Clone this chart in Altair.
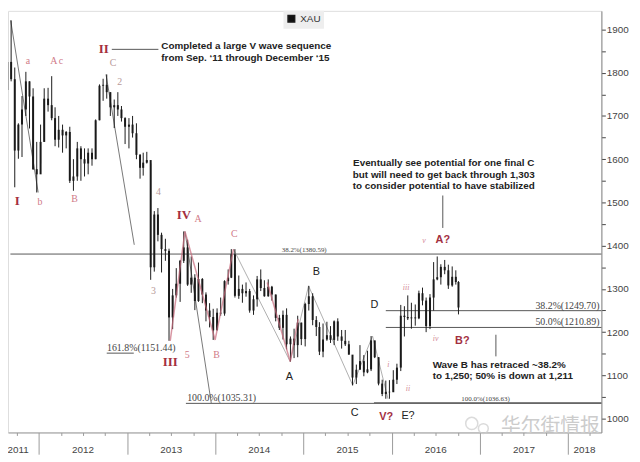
import altair as alt
import pandas as pd

# ---------------- price data (semi-monthly bars, XAU) ----------------
bar_dates = [
    "2011-08-08", "2011-08-23", "2011-09-08", "2011-09-23", "2011-10-08", "2011-10-23",
    "2011-11-08", "2011-11-23", "2011-12-08", "2011-12-23",
    "2012-01-08", "2012-01-23", "2012-02-08", "2012-02-23", "2012-03-08", "2012-03-23",
    "2012-04-08", "2012-04-23", "2012-05-08", "2012-05-23", "2012-06-08", "2012-06-23",
    "2012-07-08", "2012-07-23", "2012-08-08", "2012-08-23", "2012-09-08", "2012-09-23",
    "2012-10-08", "2012-10-23", "2012-11-08", "2012-11-23", "2012-12-08", "2012-12-23",
    "2013-01-08", "2013-01-23", "2013-02-08", "2013-02-23", "2013-03-08", "2013-03-23",
    "2013-04-08", "2013-04-23", "2013-05-08", "2013-05-23", "2013-06-08", "2013-06-23",
    "2013-07-08", "2013-07-23", "2013-08-08", "2013-08-23", "2013-09-08", "2013-09-23",
    "2013-10-08", "2013-10-23", "2013-11-08", "2013-11-23", "2013-12-08", "2013-12-23",
    "2014-01-08", "2014-01-23", "2014-02-08", "2014-02-23", "2014-03-08", "2014-03-23",
    "2014-04-08", "2014-04-23", "2014-05-08", "2014-05-23", "2014-06-08", "2014-06-23",
    "2014-07-08", "2014-07-23", "2014-08-08", "2014-08-23", "2014-09-08", "2014-09-23",
    "2014-10-08", "2014-10-23", "2014-11-08", "2014-11-23", "2014-12-08", "2014-12-23",
    "2015-01-08", "2015-01-23", "2015-02-08", "2015-02-23", "2015-03-08", "2015-03-23",
    "2015-04-08", "2015-04-23", "2015-05-08", "2015-05-23", "2015-06-08", "2015-06-23",
    "2015-07-08", "2015-07-23", "2015-08-08", "2015-08-23", "2015-09-08", "2015-09-23",
    "2015-10-08", "2015-10-23", "2015-11-08", "2015-11-23", "2015-12-08", "2015-12-23",
    "2016-01-08", "2016-01-23", "2016-02-08", "2016-02-23", "2016-03-08", "2016-03-23",
    "2016-04-08", "2016-04-23", "2016-05-08", "2016-05-23", "2016-06-08", "2016-06-23",
    "2016-07-08", "2016-07-23", "2016-08-08", "2016-08-23", "2016-09-08", "2016-09-23",
    "2016-10-04",
]
bar_high = [
    1815, 1913, 1921, 1812, 1683, 1746, 1802, 1780, 1764, 1640,
    1680, 1764, 1765, 1792, 1720, 1700, 1680, 1665, 1675, 1600, 1640, 1630,
    1625, 1625, 1625, 1692, 1773, 1786, 1796, 1755, 1738, 1755, 1723, 1697,
    1695, 1700, 1683, 1612, 1615, 1617, 1590, 1480, 1487, 1430, 1416, 1393,
    1300, 1348, 1367, 1433, 1414, 1375, 1334, 1361, 1325, 1292, 1267, 1254,
    1255, 1280, 1320, 1345, 1392, 1392, 1331, 1310, 1315, 1300, 1285, 1330,
    1345, 1320, 1322, 1307, 1287, 1240, 1250, 1255, 1190, 1208, 1238, 1222,
    1268, 1307, 1290, 1237, 1223, 1220, 1224, 1214, 1227, 1232, 1205, 1205,
    1180, 1146, 1125, 1170, 1147, 1157, 1191, 1180, 1142, 1090, 1088, 1089,
    1112, 1127, 1263, 1260, 1285, 1268, 1264, 1296, 1303, 1280, 1288, 1362,
    1375, 1357, 1367, 1356, 1352, 1343, 1318,
]
bar_low = [
    1610, 1705, 1780, 1535, 1601, 1605, 1700, 1671, 1575, 1523,
    1590, 1640, 1710, 1690, 1630, 1627, 1615, 1625, 1545, 1527, 1550, 1550,
    1560, 1565, 1585, 1600, 1690, 1735, 1740, 1700, 1672, 1700, 1687, 1635,
    1625, 1650, 1600, 1555, 1562, 1590, 1321, 1340, 1410, 1338, 1365, 1180,
    1207, 1280, 1270, 1360, 1307, 1291, 1251, 1270, 1267, 1225, 1211, 1182,
    1212, 1238, 1238, 1310, 1325, 1280, 1277, 1268, 1282, 1245, 1240, 1259,
    1295, 1282, 1282, 1273, 1225, 1205, 1183, 1160, 1132, 1140, 1142, 1170,
    1167, 1250, 1216, 1191, 1147, 1142, 1180, 1175, 1170, 1180, 1162, 1168,
    1148, 1077, 1080, 1115, 1098, 1105, 1110, 1140, 1077, 1052, 1046, 1046,
    1062, 1080, 1110, 1190, 1228, 1208, 1215, 1230, 1262, 1200, 1207, 1250,
    1320, 1310, 1334, 1300, 1305, 1310, 1241,
]
bar_close = [
    1760, 1825, 1785, 1620, 1680, 1715, 1780, 1745, 1577, 1565,
    1640, 1740, 1725, 1695, 1645, 1668, 1655, 1663, 1550, 1560, 1625, 1600,
    1590, 1615, 1600, 1690, 1770, 1772, 1755, 1720, 1725, 1715, 1695, 1675,
    1680, 1660, 1610, 1580, 1592, 1598, 1350, 1472, 1425, 1392, 1388, 1234,
    1285, 1312, 1365, 1396, 1310, 1326, 1272, 1323, 1287, 1250, 1235, 1204,
    1245, 1243, 1318, 1326, 1380, 1284, 1300, 1290, 1295, 1250, 1276, 1322,
    1302, 1283, 1305, 1287, 1233, 1210, 1240, 1172, 1185, 1170, 1222, 1184,
    1265, 1283, 1228, 1212, 1155, 1183, 1193, 1182, 1225, 1190, 1180, 1172,
    1148, 1095, 1113, 1133, 1107, 1114, 1181, 1142, 1081, 1057, 1062, 1061,
    1090, 1118, 1238, 1235, 1232, 1234, 1232, 1290, 1273, 1214, 1280, 1322,
    1327, 1351, 1343, 1308, 1328, 1316, 1257,
]
first_open = 1625

# ---------------- Fibonacci levels ----------------
fib_labels = ["38.2%(1380.59)", "161.8%(1151.44)", "100.0%(1035.31)",
              "100.0%(1036.63)", "38.2%(1249.70)", "50.0%(1210.89)"]
fib_values = [1380.59, 1151.44, 1035.31, 1036.63, 1249.70, 1210.89]
fib_start = ["2011-09-05", "2012-10-08", "2013-09-01", "2015-10-20", "2015-12-08", "2015-12-08"]
fib_end = ["2018-05-19", "2013-01-28", "2018-05-19", "2018-05-19", "2018-05-19", "2018-05-19"]
fib_label_dates = ["2014-10-03", "2012-10-09", "2013-09-06", "2016-10-16", "2018-05-11", "2018-05-11"]
fib_label_sizes = [7, 10, 10, 7, 10, 10]
fib_label_side = ["left", "left", "left", "left", "right", "right"]

# ---------------- wave drawing lines ----------------
wave_group = [1, 1, 2, 2, 3, 3]
wave_dates = ["2011-09-06", "2011-12-29", "2012-10-05", "2013-01-30", "2013-08-28", "2013-12-15"]
wave_values = [1921, 1523, 1796, 1402, 1433, 1036]

zig_dates = ["2014-03-17", "2014-11-07", "2015-01-22", "2015-07-24", "2015-10-14", "2015-12-17"]
zig_values = [1392, 1132, 1307, 1077, 1191, 1046]

sub_group = [1, 1, 1, 1, 2, 2, 2]
sub_dates = ["2013-06-28", "2013-08-28", "2013-12-31", "2014-03-17", "2014-08-04", "2014-11-07", "2014-12-10"]
sub_values = [1180, 1433, 1182, 1392, 1315, 1132, 1230]

# ---------------- wave labels ----------------
roman_text = ["I", "II", "III", "IV"]
roman_dates = ["2011-10-03", "2012-09-26", "2013-06-28", "2013-08-24"]
roman_values = [1504, 1854, 1132, 1470]

quest_text = ["V?", "A?", "B?"]
quest_dates = ["2015-12-10", "2016-07-31", "2016-10-20"]
quest_values = [1004, 1413, 1180]

pink_text = ["a", "b", "A", "c", "B", "A", "5", "B", "C"]
pink_dates = ["2011-11-17", "2012-01-05", "2012-03-03", "2012-04-01", "2012-05-28",
              "2013-10-21", "2013-09-06", "2014-01-06", "2014-03-20"]
pink_values = [1826, 1500, 1826, 1826, 1507, 1461, 1148, 1146, 1427]

muted_text = ["C", "2", "3", "4"]
muted_dates = ["2012-11-03", "2012-12-01", "2013-04-20", "2013-05-10"]
muted_values = [1822, 1778, 1294, 1523]

tiny_text = ["i", "ii", "iii", "iv", "v"]
tiny_dates = ["2015-12-18", "2016-03-09", "2016-03-01", "2016-07-01", "2016-05-14"]
tiny_values = [1123, 1068, 1301, 1185, 1411]

black_text = ["A", "B", "C", "D", "E?"]
black_dates = ["2014-11-04", "2015-02-23", "2015-08-01", "2015-10-22", "2016-03-09"]
black_values = [1096, 1340, 1014, 1262, 1007]

# ---------------- annotations ----------------
note_left_text = ["Completed a large V wave sequence", "from Sep. \u201811 through December \u201815",
                  "Wave B has retraced ~38.2%", "to 1,250; 50% is down at 1,211"]
note_left_dates = ["2013-05-22", "2013-05-22", "2016-06-19", "2016-06-19"]
note_left_values = [1861, 1833, 1125, 1098]

note_center_text = ["Eventually see potential for one final C",
                    "but will need to get back through 1,303",
                    "to consider potential to have stabilized"]
note_center_dates = ["2016-08-04", "2016-08-04", "2016-08-04"]
note_center_values = [1591, 1564, 1539]

conn_x1 = ["2012-10-29", "2016-07-31", "2017-03-08"]
conn_x2 = ["2013-05-10", "2016-07-31", "2017-03-08"]
conn_y1 = [1854, 1441, 1144]
conn_y2 = [1854, 1516, 1194]

year_text = ["2011", "2012", "2013", "2014", "2015", "2016", "2017", "2018"]
year_dates = ["2011-10-07", "2012-07-02", "2013-07-02", "2014-07-02",
              "2015-07-02", "2016-07-02", "2017-07-02", "2018-03-10"]

watermark_text = ["华尔街情报"]
watermark_dates = ["2017-10-20"]
watermark_values = [982]
icon_dates = ["2016-11-28", "2017-01-15"]
icon_values = [989, 977]
icon_sizes = [150, 100]

# ---------------- tables ----------------
opens = [first_open] + bar_close[:-1]
price = pd.DataFrame({"date": bar_dates, "open": opens, "high": bar_high,
                      "low": bar_low, "close": bar_close, "series": "XAU"})
fib = pd.DataFrame({"label": fib_labels, "value": fib_values, "start": fib_start, "end": fib_end,
                    "ldate": fib_label_dates, "size": fib_label_sizes, "side": fib_label_side})
waves = pd.DataFrame({"g": wave_group, "date": wave_dates, "value": wave_values})
zig = pd.DataFrame({"date": zig_dates, "value": zig_values})
subs = pd.DataFrame({"g": sub_group, "date": sub_dates, "value": sub_values})
conn = pd.DataFrame({"x1": conn_x1, "x2": conn_x2, "y1": conn_y1, "y2": conn_y2})


def lab(texts, dates, values):
    return pd.DataFrame({"text": texts, "date": dates, "value": values})


# ---------------- scales / axes ----------------
xscale = alt.Scale(domain=[alt.DateTime(year=2011, month=8, date=26),
                           alt.DateTime(year=2018, month=5, date=19)])
yscale = alt.Scale(domain=[968, 1943], zero=False, nice=False)

quarters = [alt.DateTime(year=y, month=m, date=1)
            for y in range(2011, 2019) for m in (1, 4, 7, 10)
            if (2011, 10) <= (y, m) <= (2018, 4)]

x_axis = alt.Axis(values=quarters, labels=False, grid=False, title=None,
                  tickSize={"condition": {"test": "month(datum.value) === 0", "value": 22}, "value": 3},
                  tickColor="#999999", domainColor="#999999")
y_axis = alt.Axis(orient="right", values=list(range(1000, 1901, 50)), format="d",
                  labelExpr="datum.value % 100 === 0 ? datum.label : ''",
                  tickSize=4, tickColor="#444444", domainColor="#888888",
                  labelColor="#444444", labelFont="Liberation Sans", labelFontSize=10,
                  labelPadding=1, grid=False, title=None)


def X(f):
    return alt.X(f, type="temporal", scale=xscale, axis=x_axis)


def Y(f):
    return alt.Y(f, type="quantitative", scale=yscale, axis=y_axis)


color = alt.Color("series:N", scale=alt.Scale(domain=["XAU"], range=["#1a1a1a"]),
                  legend=alt.Legend(title=None, orient="none", legendX=279, legendY=0,
                                    symbolType="square", symbolFillColor="#111111",
                                    symbolStrokeColor="#111111", symbolSize=45,
                                    labelFont="Liberation Sans", labelFontSize=10,
                                    labelColor="#333333", fillColor="#eeeeee", padding=3))

# ---------------- layers ----------------
wicks = alt.Chart(price).mark_rule(strokeWidth=1).encode(
    x=X("date"), y=Y("low"), y2="high", color=color)
bodies = alt.Chart(price).mark_rule(strokeWidth=2).encode(
    x=X("date"), y=Y("open"), y2="close", color=color)

fib_lines = alt.Chart(fib).mark_rule(color="#555555", strokeWidth=1).encode(
    x=X("start"), x2="end", y=Y("value"))
fib_left = alt.Chart(fib).transform_filter("datum.side === 'left'").mark_text(
    align="left", baseline="alphabetic", dy=-2, font="Liberation Serif", color="#444444").encode(
    x=X("ldate"), y=Y("value"), text="label:N", size=alt.Size("size:Q", scale=None))
fib_right = alt.Chart(fib).transform_filter("datum.side === 'right'").mark_text(
    align="right", baseline="alphabetic", dy=-2, font="Liberation Serif", color="#444444").encode(
    x=X("ldate"), y=Y("value"), text="label:N", size=alt.Size("size:Q", scale=None))

wave_lines = alt.Chart(waves).mark_line(color="#777777", strokeWidth=1).encode(
    x=X("date"), y=Y("value"), detail="g:N")
zig_line = alt.Chart(zig).mark_line(color="#9a9a9a", strokeWidth=1, opacity=0.8).encode(
    x=X("date"), y=Y("value"))
sub_lines = alt.Chart(subs).mark_line(color="#c86a7c", strokeWidth=1.5, opacity=0.7).encode(
    x=X("date"), y=Y("value"), detail="g:N")

conn_lines = alt.Chart(conn).mark_rule(color="#555555", strokeWidth=1).encode(
    x=X("x1"), x2="x2", y=Y("y1"), y2="y2")


def text_layer(df, **kw):
    return alt.Chart(df).mark_text(**kw).encode(x=X("date"), y=Y("value"), text="text:N")


roman = text_layer(lab(roman_text, roman_dates, roman_values), font="Liberation Serif",
                   fontWeight="bold", fontSize=13, color="#a3303f")
quest = text_layer(lab(quest_text, quest_dates, quest_values), font="Liberation Sans",
                   fontWeight="bold", fontSize=11, color="#a3303f")
pink = text_layer(lab(pink_text, pink_dates, pink_values), font="Liberation Serif",
                  fontSize=10, color="#d07a88")
muted = text_layer(lab(muted_text, muted_dates, muted_values), font="Liberation Serif",
                   fontSize=10, color="#b89a9a")
tiny = text_layer(lab(tiny_text, tiny_dates, tiny_values), font="Liberation Serif",
                  fontStyle="italic", fontSize=8, color="#d48a96")
black = text_layer(lab(black_text, black_dates, black_values), font="Liberation Sans",
                   fontSize=11, color="#222222")

notes_left = text_layer(lab(note_left_text, note_left_dates, note_left_values), align="left",
                        font="Liberation Sans", fontWeight="bold", fontSize=10, color="#222222")
notes_center = text_layer(lab(note_center_text, note_center_dates, note_center_values), align="center",
                          font="Liberation Sans", fontWeight="bold", fontSize=10, color="#222222")

watermark = text_layer(lab(watermark_text, watermark_dates, watermark_values),
                       font="Noto Sans CJK SC", fontSize=20, color="#cccccc")
icon = alt.Chart(pd.DataFrame({"date": icon_dates, "value": icon_values, "s": icon_sizes})).mark_point(
    shape="circle", filled=False, color="#cccccc", strokeWidth=1.5).encode(
    x=X("date"), y=Y("value"), size=alt.Size("s:Q", scale=None))

years = alt.Chart(pd.DataFrame({"text": year_text, "date": year_dates})).mark_text(
    font="Liberation Sans", fontSize=10, color="#444444").encode(
    x=X("date"), y=alt.value(445), text="text:N")

chart = alt.layer(
    watermark, icon, fib_lines, wave_lines, zig_line, wicks, bodies, sub_lines, conn_lines,
    fib_left, fib_right, roman, quest, pink, muted, tiny, black,
    notes_left, notes_center, years,
).properties(
    width=601, height=427,
    autosize=alt.AutoSizeParams(type="none"),
    padding={"left": 0, "top": 0, "right": 31, "bottom": 27},
).configure_view(stroke=None).configure(background="white")

chart.save("out.html", embed_options={"renderer": "svg", "actions": False})
